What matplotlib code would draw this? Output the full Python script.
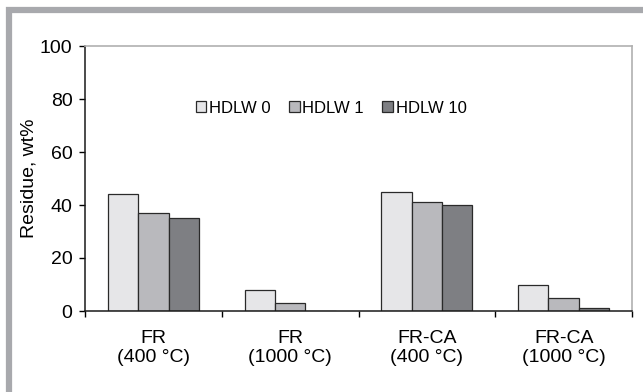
import numpy as np
import matplotlib.pyplot as plt
from matplotlib.patches import Rectangle

plt.rcParams['font.family'] = ['Liberation Sans', 'DejaVu Sans']

samples = ['FR\n(400 °C)', 'FR\n(1000 °C)', 'FR-CA\n(400 °C)', 'FR-CA\n(1000 °C)']
series = ['HDLW 0', 'HDLW 1', 'HDLW 10']
hdlw0 = [44, 8, 45, 10]
hdlw1 = [37, 3, 41, 5]
hdlw10 = [35, 0, 40, 1]
colors = ['#e6e6e8', '#b9b9bd', '#7e7f83']

fig = plt.figure(figsize=(6.43, 3.92), dpi=100)
ax = fig.add_axes([85/643, 1 - 311/392, (632-85)/643, (311-46)/392])

x = np.arange(len(samples))
w = 2/9
for i, (vals, c, lab) in enumerate(zip([hdlw0, hdlw1, hdlw10], colors, series)):
    ax.bar(x + (i-1)*w, vals, w, color=c, edgecolor='#2a2a2a', linewidth=0.9, label=lab)

ax.set_xlim(-0.5, len(samples)-0.5)
ax.set_ylim(0, 100)
ax.set_yticks(range(0, 101, 20))
ax.set_xticks(np.arange(-0.5, len(samples), 1.0))
ax.set_xticklabels([])
ax.set_xticks(x, minor=True)
ax.set_xticklabels(samples, minor=True, fontsize=14, linespacing=1.12)
ax.tick_params(axis='x', which='minor', length=0, pad=14)
ax.tick_params(axis='x', which='major', length=4, direction='out', width=1)
ax.tick_params(axis='y', length=4, direction='out', width=1, labelsize=14, pad=5)
ax.set_ylabel('Residue, wt%', fontsize=14, labelpad=2)

for s in ['top', 'right']:
    ax.spines[s].set_color('#b0b0b0')
    ax.spines[s].set_linewidth(1.2)
for s in ['left', 'bottom']:
    ax.spines[s].set_color('#1a1a1a')
    ax.spines[s].set_linewidth(1.1)

ax.legend(loc='center left', bbox_to_anchor=(0.19, 0.765), ncol=3, frameon=False,
          fontsize=12, handlelength=0.65, handleheight=0.65, handletextpad=0.15,
          columnspacing=1.1, borderaxespad=0)

# grey frame around the figure
fig.patches.append(Rectangle((9/643, 1 - 394/392), 660/643, (394-10)/392,
                             transform=fig.transFigure, fill=False,
                             edgecolor='#a8a9ad', linewidth=4.5, zorder=0))

plt.savefig('out.png', dpi=100)
plt.close()
